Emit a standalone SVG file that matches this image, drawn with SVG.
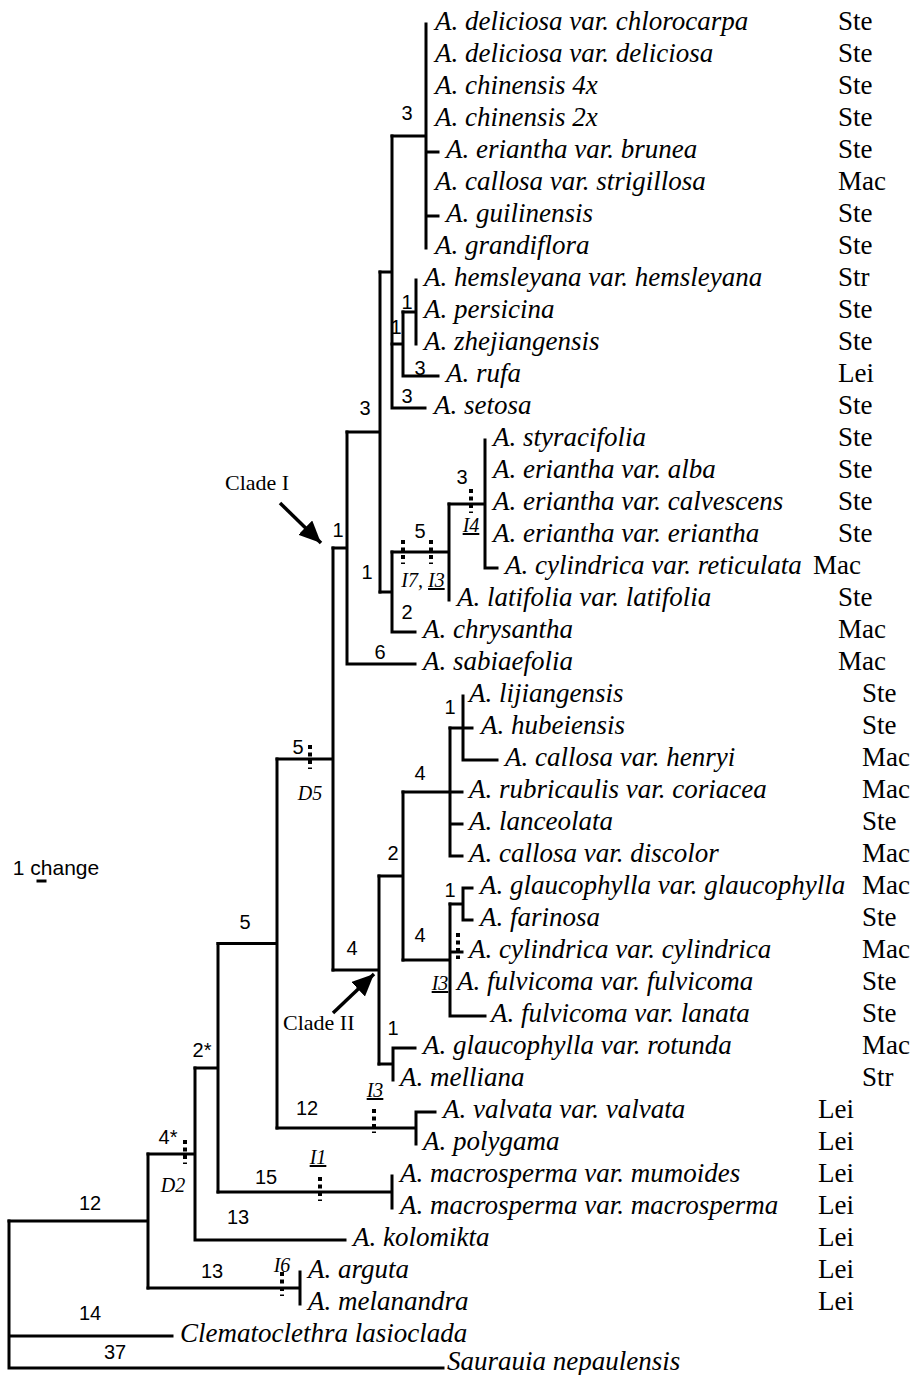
<svg xmlns="http://www.w3.org/2000/svg" width="913" height="1375" viewBox="0 0 913 1375">
  <style>
    .br { stroke: #000; stroke-width: 3; fill: none; stroke-linecap: square; }
    .mk { stroke: #000; stroke-width: 4; fill: none; stroke-dasharray: 4 3.5; }
    .tx { font-family: "Liberation Serif", "Times New Roman", serif; font-style: italic; font-size: 27px; fill: #000; }
    .st { font-family: "Liberation Serif", "Times New Roman", serif; font-size: 27px; fill: #000; }
    .num { font-family: "Liberation Sans", Arial, sans-serif; font-size: 20px; fill: #000; text-anchor: middle; }
    .ev { font-family: "Liberation Serif", "Times New Roman", serif; font-style: italic; font-size: 20px; fill: #000; text-anchor: middle; }
    .ul { text-decoration: underline; }
    .cl { font-family: "Liberation Serif", "Times New Roman", serif; font-size: 22px; fill: #000; }
    .ar { stroke: #000; stroke-width: 3.5; fill: none; }
  </style>
  <defs>
    <marker id="head" markerUnits="userSpaceOnUse" markerWidth="26" markerHeight="26" refX="22" refY="10" orient="auto">
      <path d="M0,0 L22,10 L0,20 Z" fill="#000"/>
    </marker>
  </defs>
  <rect width="913" height="1375" fill="#fff"/>

  <!-- tree branches -->
  <g id="branches">
    <!-- root and outgroups -->
    <path class="br" d="M9 1221 V1368 M9 1336 H172 M9 1368 H443"/>
    <path class="br" d="M9 1221 H148 M148 1154 V1288"/>
    <path class="br" d="M148 1288 H300 M300 1272 V1304"/>
    <path class="br" d="M148 1154 H195 M195 1068 V1240 M195 1240 H345"/>
    <path class="br" d="M195 1068 H218 M218 943.5 V1192"/>
    <path class="br" d="M218 1192 H392 M392 1176 V1208"/>
    <path class="br" d="M218 943.5 H277 M277 759 V1128"/>
    <path class="br" d="M277 1128 H416 M416 1112 V1144 M416 1112 H435"/>
    <path class="br" d="M277 759 H333 M333 548 V970"/>
    <!-- clade II -->
    <path class="br" d="M333 970 H379 M379 876 V1064"/>
    <path class="br" d="M379 1064 H393 M393 1048 V1080 M393 1048 H415"/>
    <path class="br" d="M379 876 H403 M403 792 V960"/>
    <path class="br" d="M403 792 H450 M450 728 V856 M450 792 H462 M450 824 H462 M450 856 H462"/>
    <path class="br" d="M450 728 H463 M463 696 V760 M463 728 H472 M463 760 H497"/>
    <path class="br" d="M403 960 H450 M450 904 V1016 M450 952 H462 M450 1016 H485"/>
    <path class="br" d="M450 904 H463 M463 888 V920 M463 888 H472 M463 920 H472"/>
    <!-- clade I -->
    <path class="br" d="M333 548 H347 M347 432 V664 M347 664 H415"/>
    <path class="br" d="M347 432 H380 M380 272 V592"/>
    <path class="br" d="M380 592 H392 M392 552 V632 M392 632 H415"/>
    <path class="br" d="M392 552 H449 M449 504 V600"/>
    <path class="br" d="M449 504 H485 M485 440 V568 M485 568 H497"/>
    <path class="br" d="M380 272 H392 M392 136 V408 M392 408 H425"/>
    <path class="br" d="M392 136 H426 M426 24 V248 M426 152 H438 M426 216 H438"/>
    <path class="br" d="M392 344 H403 M403 312 V376 M403 376 H438"/>
    <path class="br" d="M403 312 H416 M416 280 V344"/>
  </g>

  <!-- character-state marks on branches -->
  <g id="marks">
    <path class="mk" d="M310 745 V769"/>
    <path class="mk" d="M403 540 V564"/>
    <path class="mk" d="M431 540 V564"/>
    <path class="mk" d="M471 489 V513"/>
    <path class="mk" d="M458 933 V959"/>
    <path class="mk" d="M374 1109 V1133"/>
    <path class="mk" d="M320 1177 V1201"/>
    <path class="mk" d="M185 1140 V1164"/>
    <path class="mk" d="M282 1272 V1296"/>
    <text class="ev" x="310" y="800">D5</text>
    <text class="ev" x="423" y="587">I7, <tspan class="ul">I3</tspan></text>
    <text class="ev" x="471" y="532"><tspan class="ul">I4</tspan></text>
    <text class="ev" x="440" y="990"><tspan class="ul">I3</tspan></text>
    <text class="ev" x="375" y="1097"><tspan class="ul">I3</tspan></text>
    <text class="ev" x="318" y="1164"><tspan class="ul">I1</tspan></text>
    <text class="ev" x="173" y="1192">D2</text>
    <text class="ev" x="282" y="1272">I6</text>
  </g>

  <!-- branch lengths -->
  <g id="lengths">
    <text class="num" x="407" y="120">3</text>
    <text class="num" x="407" y="309">1</text>
    <text class="num" x="396" y="334">1</text>
    <text class="num" x="420" y="375">3</text>
    <text class="num" x="407" y="403">3</text>
    <text class="num" x="365" y="415">3</text>
    <text class="num" x="462" y="484">3</text>
    <text class="num" x="420" y="538">5</text>
    <text class="num" x="338" y="537">1</text>
    <text class="num" x="367" y="579">1</text>
    <text class="num" x="407" y="619">2</text>
    <text class="num" x="380" y="659">6</text>
    <text class="num" x="450" y="714">1</text>
    <text class="num" x="298" y="754">5</text>
    <text class="num" x="420" y="780">4</text>
    <text class="num" x="393" y="860">2</text>
    <text class="num" x="450" y="897">1</text>
    <text class="num" x="245" y="929">5</text>
    <text class="num" x="420" y="942">4</text>
    <text class="num" x="352" y="955">4</text>
    <text class="num" x="393" y="1035">1</text>
    <text class="num" x="202" y="1057">2*</text>
    <text class="num" x="307" y="1115">12</text>
    <text class="num" x="168" y="1144">4*</text>
    <text class="num" x="266" y="1184">15</text>
    <text class="num" x="90" y="1210">12</text>
    <text class="num" x="238" y="1224">13</text>
    <text class="num" x="212" y="1278">13</text>
    <text class="num" x="90" y="1320">14</text>
    <text class="num" x="115" y="1359">37</text>
  </g>

  <!-- clade pointers -->
  <g id="clade-I">
    <text class="cl" x="225" y="490">Clade I</text>
    <path class="ar" d="M280 503 L321 543" marker-end="url(#head)"/>
  </g>
  <g id="clade-II">
    <text class="cl" x="283" y="1030">Clade II</text>
    <path class="ar" d="M333 1013 L374 974" marker-end="url(#head)"/>
  </g>

  <!-- scale -->
  <g id="scale">
    <text class="num" x="56" y="875" style="font-size:21px">1 change</text>
    <path class="br" d="M38 881 H45"/>
  </g>

  <!-- taxa -->
  <g id="t00"><text class="tx" x="435" y="30">A. deliciosa var. chlorocarpa</text><text class="st" x="838" y="30">Ste</text></g>
  <g id="t01"><text class="tx" x="435" y="62">A. deliciosa var. deliciosa</text><text class="st" x="838" y="62">Ste</text></g>
  <g id="t02"><text class="tx" x="435" y="94">A. chinensis 4x</text><text class="st" x="838" y="94">Ste</text></g>
  <g id="t03"><text class="tx" x="435" y="126">A. chinensis 2x</text><text class="st" x="838" y="126">Ste</text></g>
  <g id="t04"><text class="tx" x="446" y="158">A. eriantha var. brunea</text><text class="st" x="838" y="158">Ste</text></g>
  <g id="t05"><text class="tx" x="435" y="190">A. callosa var. strigillosa</text><text class="st" x="838" y="190">Mac</text></g>
  <g id="t06"><text class="tx" x="446" y="222">A. guilinensis</text><text class="st" x="838" y="222">Ste</text></g>
  <g id="t07"><text class="tx" x="435" y="254">A. grandiflora</text><text class="st" x="838" y="254">Ste</text></g>
  <g id="t08"><text class="tx" x="424" y="286">A. hemsleyana var. hemsleyana</text><text class="st" x="838" y="286">Str</text></g>
  <g id="t09"><text class="tx" x="424" y="318">A. persicina</text><text class="st" x="838" y="318">Ste</text></g>
  <g id="t10"><text class="tx" x="424" y="350">A. zhejiangensis</text><text class="st" x="838" y="350">Ste</text></g>
  <g id="t11"><text class="tx" x="446" y="382">A. rufa</text><text class="st" x="838" y="382">Lei</text></g>
  <g id="t12"><text class="tx" x="434" y="414">A. setosa</text><text class="st" x="838" y="414">Ste</text></g>
  <g id="t13"><text class="tx" x="493" y="446">A. styracifolia</text><text class="st" x="838" y="446">Ste</text></g>
  <g id="t14"><text class="tx" x="493" y="478">A. eriantha var. alba</text><text class="st" x="838" y="478">Ste</text></g>
  <g id="t15"><text class="tx" x="493" y="510">A. eriantha var. calvescens</text><text class="st" x="838" y="510">Ste</text></g>
  <g id="t16"><text class="tx" x="493" y="542">A. eriantha var. eriantha</text><text class="st" x="838" y="542">Ste</text></g>
  <g id="t17"><text class="tx" x="505" y="574">A. cylindrica var. reticulata</text><text class="st" x="813" y="574">Mac</text></g>
  <g id="t18"><text class="tx" x="457" y="606">A. latifolia var. latifolia</text><text class="st" x="838" y="606">Ste</text></g>
  <g id="t19"><text class="tx" x="423" y="638">A. chrysantha</text><text class="st" x="838" y="638">Mac</text></g>
  <g id="t20"><text class="tx" x="423" y="670">A. sabiaefolia</text><text class="st" x="838" y="670">Mac</text></g>
  <g id="t21"><text class="tx" x="469" y="702">A. lijiangensis</text><text class="st" x="862" y="702">Ste</text></g>
  <g id="t22"><text class="tx" x="481" y="734">A. hubeiensis</text><text class="st" x="862" y="734">Ste</text></g>
  <g id="t23"><text class="tx" x="505" y="766">A. callosa var. henryi</text><text class="st" x="862" y="766">Mac</text></g>
  <g id="t24"><text class="tx" x="469" y="798">A. rubricaulis var. coriacea</text><text class="st" x="862" y="798">Mac</text></g>
  <g id="t25"><text class="tx" x="469" y="830">A. lanceolata</text><text class="st" x="862" y="830">Ste</text></g>
  <g id="t26"><text class="tx" x="469" y="862">A. callosa var. discolor</text><text class="st" x="862" y="862">Mac</text></g>
  <g id="t27"><text class="tx" x="480" y="894">A. glaucophylla var. glaucophylla</text><text class="st" x="862" y="894">Mac</text></g>
  <g id="t28"><text class="tx" x="480" y="926">A. farinosa</text><text class="st" x="862" y="926">Ste</text></g>
  <g id="t29"><text class="tx" x="469" y="958">A. cylindrica var. cylindrica</text><text class="st" x="862" y="958">Mac</text></g>
  <g id="t30"><text class="tx" x="457" y="990">A. fulvicoma var. fulvicoma</text><text class="st" x="862" y="990">Ste</text></g>
  <g id="t31"><text class="tx" x="491" y="1022">A. fulvicoma var. lanata</text><text class="st" x="862" y="1022">Ste</text></g>
  <g id="t32"><text class="tx" x="423" y="1054">A. glaucophylla var. rotunda</text><text class="st" x="862" y="1054">Mac</text></g>
  <g id="t33"><text class="tx" x="400" y="1086">A. melliana</text><text class="st" x="862" y="1086">Str</text></g>
  <g id="t34"><text class="tx" x="443" y="1118">A. valvata var. valvata</text><text class="st" x="818" y="1118">Lei</text></g>
  <g id="t35"><text class="tx" x="423" y="1150">A. polygama</text><text class="st" x="818" y="1150">Lei</text></g>
  <g id="t36"><text class="tx" x="400" y="1182">A. macrosperma var. mumoides</text><text class="st" x="818" y="1182">Lei</text></g>
  <g id="t37"><text class="tx" x="400" y="1214">A. macrosperma var. macrosperma</text><text class="st" x="818" y="1214">Lei</text></g>
  <g id="t38"><text class="tx" x="353" y="1246">A. kolomikta</text><text class="st" x="818" y="1246">Lei</text></g>
  <g id="t39"><text class="tx" x="308" y="1278">A. arguta</text><text class="st" x="818" y="1278">Lei</text></g>
  <g id="t40"><text class="tx" x="308" y="1310">A. melanandra</text><text class="st" x="818" y="1310">Lei</text></g>
  <g id="t41"><text class="tx" x="180" y="1342">Clematoclethra lasioclada</text></g>
  <g id="t42"><text class="tx" x="447" y="1370">Saurauia nepaulensis</text></g>
</svg>
